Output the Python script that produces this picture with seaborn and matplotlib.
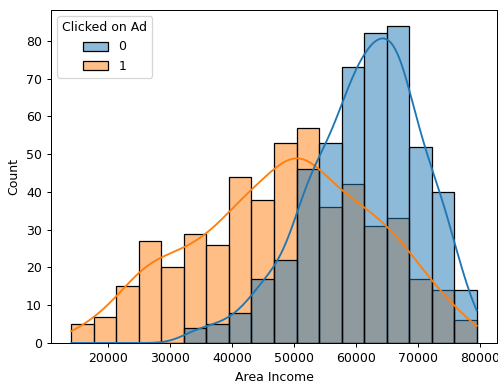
import numpy as np
import pandas as pd
import matplotlib
matplotlib.use("Agg")
import matplotlib.pyplot as plt
import seaborn as sns

# Area Income histogram: 18 equal bins between the observed min and max
income_min = 13996.5
income_max = 79484.8
n_bins = 18

# Counts per bin for users who did not click (0) and who clicked (1)
counts_not_clicked = [0, 0, 0, 0, 0, 4, 5, 8, 17, 22, 46, 53, 73, 82, 84, 52, 40, 14]
counts_clicked = [5, 7, 15, 27, 20, 29, 26, 44, 38, 53, 57, 36, 42, 31, 33, 17, 14, 6]
hue_levels = [0, 1]

scale = 100 / 90
plt.rcParams.update({
    "font.size": 10 / scale,
    "lines.linewidth": 1.5 / scale,
    "patch.linewidth": 1.0 / scale,
    "axes.linewidth": 0.8 / scale,
    "xtick.major.width": 0.8 / scale,
    "ytick.major.width": 0.8 / scale,
    "xtick.major.size": 3.5 / scale,
    "ytick.major.size": 3.5 / scale,
})

edges = np.linspace(income_min, income_max, n_bins + 1)
centers = (edges[:-1] + edges[1:]) / 2

df = pd.DataFrame({
    "Area Income": np.concatenate([
        np.repeat(centers, counts_not_clicked),
        np.repeat(centers, counts_clicked),
    ]),
    "Clicked on Ad": np.concatenate([
        np.repeat(hue_levels[0], sum(counts_not_clicked)),
        np.repeat(hue_levels[1], sum(counts_clicked)),
    ]),
})

fig = plt.figure(figsize=(4.98, 3.81), dpi=100)
ax = fig.add_axes([51 / 498, (381 - 343) / 381, 446 / 498, 333 / 381])

sns.histplot(
    data=df, x="Area Income", hue="Clicked on Ad", bins=edges, kde=True,
    kde_kws={"cut": 3, "clip": (income_min, income_max)}, ax=ax,
)

fig.savefig("out.png", dpi=100)
